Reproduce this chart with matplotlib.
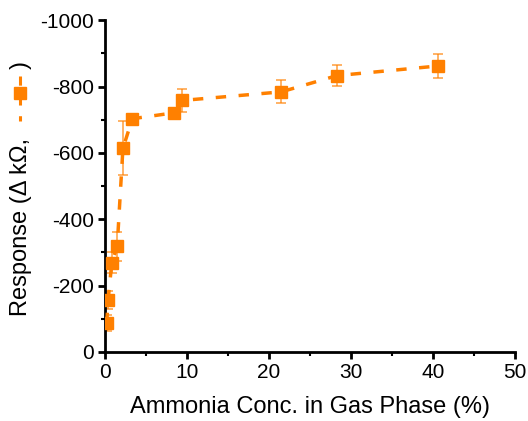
import numpy as np
import matplotlib
matplotlib.use("Agg")
import matplotlib.pyplot as plt
from matplotlib.lines import Line2D

plt.rcParams['font.family'] = ['Liberation Sans', 'DejaVu Sans']
plt.rcParams['axes.unicode_minus'] = False

# ammonia concentration (%) vs response (delta kOhm)
conc = [0.2, 0.37, 0.82, 1.48, 2.18, 3.33, 8.46, 9.37, 21.5, 28.3, 40.6]
response = [-87, -156, -269, -319, -614, -703, -721, -758, -784, -833, -862]
err = [25, 28, 31, 44, 81, 8, 8, 35, 35, 32, 37]

orange = '#ff8000'

fig = plt.figure(figsize=(5.28, 4.21), dpi=100)
ax = fig.add_axes([0.199, 0.164, 0.776, 0.788])

ax.errorbar(conc, response, yerr=err, fmt='none', ecolor=orange, elinewidth=1.2,
            capsize=3.5, capthick=1.2, alpha=0.7, zorder=2)
ax.plot(conc, response, color=orange, lw=2.5, ls=(0, (3, 3.6)), zorder=3)
ax.plot(conc, response, ls='none', marker='s', ms=8.5, color=orange, zorder=4)

ax.set_xlim(0, 50)
ax.set_ylim(0, -1000)
ax.set_xticks(np.arange(0, 51, 10))
ax.set_xticks(np.arange(5, 50, 10), minor=True)
ax.set_yticks(np.arange(0, -1001, -200))
ax.set_yticks(np.arange(-100, -1000, -200), minor=True)

for s in ['top', 'right']:
    ax.spines[s].set_visible(False)
for s in ['left', 'bottom']:
    ax.spines[s].set_linewidth(2)

ax.tick_params(which='major', direction='out', length=5, width=2, labelsize=15, pad=3)
ax.tick_params(which='minor', direction='out', length=3, width=1.5)

ax.set_xlabel('Ammonia Conc. in Gas Phase (%)', fontsize=17, labelpad=10)

# y label built in pieces so the legend symbol can sit inside it
fig.text(21 / 528, 1 - 316 / 421, 'Response (\u0394 k\u03a9,', rotation=90,
         ha='center', va='bottom', fontsize=17)
fig.text(21 / 528, 1 - 65 / 421, ')', rotation=90, ha='center', va='center', fontsize=17)
lx = 20 / 528
fig.add_artist(Line2D([lx, lx], [1 - 76 / 421, 1 - 121 / 421], transform=fig.transFigure,
                      color=orange, lw=2.2, ls=(0, (3, 3.5))))
fig.add_artist(Line2D([lx], [1 - 93 / 421], transform=fig.transFigure,
                      color=orange, marker='s', ms=8.5, ls='none'))

fig.savefig('out.png', dpi=100)
